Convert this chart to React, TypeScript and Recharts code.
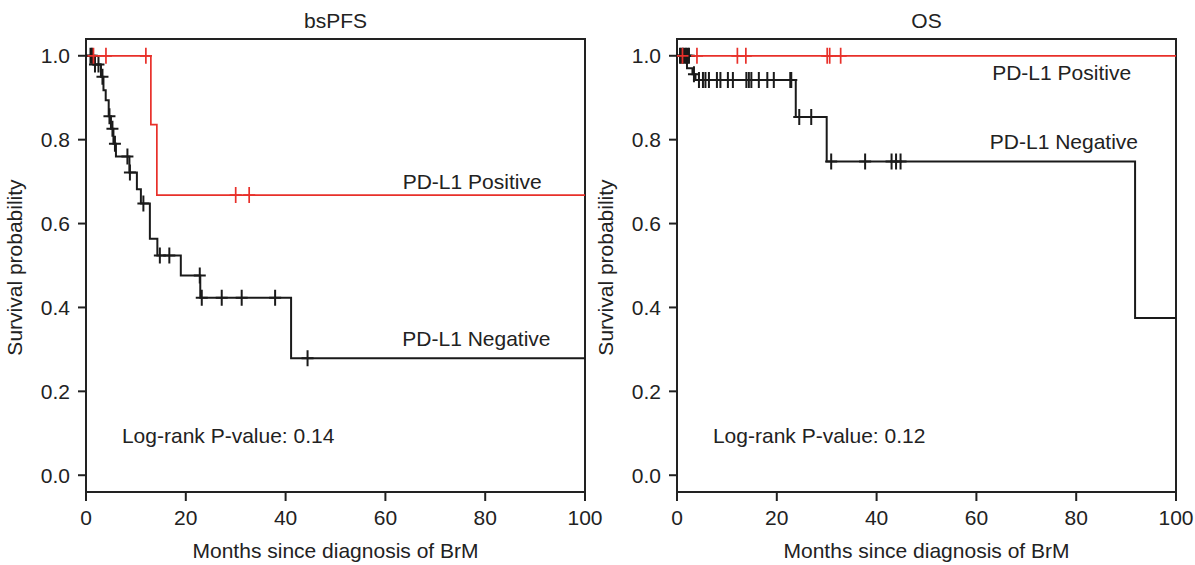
import React from 'react';
import { ComposedChart, Line, Scatter, XAxis, YAxis, ReferenceArea, ReferenceDot } from 'recharts';

const fontFamily = '"Liberation Sans", Arial, Helvetica, sans-serif';
const ink = '#222222';
const black = '#1a1a1a';
const red = '#e8302a';

const xTicks = [0, 20, 40, 60, 80, 100];
const yTicks = [0, 0.2, 0.4, 0.6, 0.8, 1.0];

// bsPFS: [months, survival]
const pfsNegSteps = [
  [0, 1], [1.5, 0.979], [3.0, 0.95], [3.5, 0.918], [3.95, 0.894], [4.55, 0.856],
  [5.0, 0.826], [5.5, 0.79], [6.0, 0.76], [8.7, 0.722], [10.2, 0.682], [11.0, 0.648],
  [12.8, 0.564], [14.3, 0.524], [19.0, 0.476], [22.9, 0.423], [41.1, 0.279], [100, 0.279],
];
const pfsNegCensor = [
  [0.9, 1], [1.2, 1], [1.8, 0.979], [2.5, 0.979], [3.3, 0.95], [4.7, 0.856], [5.3, 0.826],
  [5.8, 0.79], [8.3, 0.76], [8.8, 0.722], [11.5, 0.648], [14.8, 0.524], [16.7, 0.524],
  [22.8, 0.476], [23.2, 0.423], [27.2, 0.423], [31.2, 0.423], [37.9, 0.423], [44.4, 0.279],
];
const pfsPosSteps = [[0, 1], [13.0, 0.836], [14.2, 0.668], [100, 0.668]];
const pfsPosCensor = [[1.5, 1], [4.0, 1], [12.0, 1], [30.0, 0.668], [32.7, 0.668]];

// OS
const osNegSteps = [
  [0, 1], [2.0, 0.97], [3.1, 0.956], [3.7, 0.942], [23.8, 0.854], [30.0, 0.748],
  [91.8, 0.375], [100, 0.375],
];
const osNegCensor = [
  [0.6, 1], [0.9, 1], [1.2, 1], [1.5, 1], [1.8, 1], [2.1, 1], [2.4, 1], [3.4, 0.956],
  [4.4, 0.942], [5.2, 0.942], [5.7, 0.942], [6.4, 0.942], [8.0, 0.942], [8.7, 0.942],
  [10.2, 0.942], [11.2, 0.942], [13.9, 0.942], [14.4, 0.942], [14.9, 0.942], [16.4, 0.942],
  [18.1, 0.942], [19.4, 0.942], [22.7, 0.942], [22.9, 0.942], [24.5, 0.854], [26.9, 0.854],
  [30.9, 0.748], [37.7, 0.748], [43.0, 0.748], [43.9, 0.748], [44.8, 0.748],
];
const osPosSteps = [[0, 1], [100, 1]];
const osPosCensor = [[1.1, 1], [4.0, 1], [12.1, 1], [13.8, 1], [30.1, 1], [30.6, 1], [32.8, 1]];

const toPts = (arr: number[][]) => arr.map(([t, s]) => ({ t, s }));

const censorShape = (color: string, w: number) => (props: any) => {
  const { cx, cy } = props;
  return (
    <path
      d={`M${cx - 6},${cy}h12M${cx},${cy - 8}v16`}
      stroke={color}
      strokeWidth={w}
      fill="none"
    />
  );
};

const noteLabel = (text: string, anchor: 'start' | 'end') => (p: any) => (
  <text
    x={p.viewBox.x}
    y={p.viewBox.y}
    textAnchor={anchor}
    fontSize={21}
    fontFamily={fontFamily}
    fill={ink}
  >
    {text}
  </text>
);

const xLabel = (p: any) => {
  const vb = p.viewBox;
  return (
    <text x={vb.x + vb.width / 2} y={vb.y + 66} textAnchor="middle" fontSize={21} fontFamily={fontFamily} fill={ink}>
      Months since diagnosis of BrM
    </text>
  );
};

const yLabel = (p: any) => {
  const vb = p.viewBox;
  const x = vb.x + vb.width - 64;
  const y = vb.y + vb.height / 2 + 2;
  return (
    <text x={x} y={y} transform={`rotate(-90 ${x} ${y})`} textAnchor="middle" fontSize={21} fontFamily={fontFamily} fill={ink}>
      Survival probability
    </text>
  );
};

interface Note {
  t: number;
  s: number;
  text: string;
  anchor: 'start' | 'end';
}

interface PanelProps {
  width: number;
  yAxisWidth: number;
  rightMargin: number;
  neg: number[][];
  negCensor: number[][];
  pos: number[][];
  posCensor: number[][];
  notes: Note[];
}

function Panel({ width, yAxisWidth, rightMargin, neg, negCensor, pos, posCensor, notes }: PanelProps) {
  const tickStyle = { fontSize: 21, fill: ink, fontFamily };
  return (
    <ComposedChart width={width} height={565} margin={{ top: 39, right: rightMargin, bottom: 0, left: 0 }}>
      <XAxis
        type="number"
        dataKey="t"
        domain={[0, 100]}
        ticks={xTicks}
        interval={0}
        allowDataOverflow
        axisLine={false}
        tickLine={{ stroke: ink, strokeWidth: 2 }}
        tickSize={9}
        tickMargin={9}
        height={73}
        tick={tickStyle}
        label={xLabel}
      />
      <YAxis
        type="number"
        dataKey="s"
        domain={[-0.04, 1.04]}
        ticks={yTicks}
        interval={0}
        allowDataOverflow
        axisLine={false}
        tickLine={{ stroke: ink, strokeWidth: 2 }}
        tickSize={8}
        tickMargin={8}
        width={yAxisWidth}
        tick={tickStyle}
        tickFormatter={(v: number) => v.toFixed(1)}
        label={yLabel}
      />
      <ReferenceArea x1={0} x2={100} y1={-0.04} y2={1.04} fill="none" stroke={ink} strokeWidth={2} fillOpacity={0} ifOverflow="visible" />
      <Line data={toPts(neg)} dataKey="s" type="stepAfter" stroke={black} strokeWidth={2} dot={false} isAnimationActive={false} />
      <Line data={toPts(pos)} dataKey="s" type="stepAfter" stroke={red} strokeWidth={1.7} dot={false} isAnimationActive={false} />
      <Scatter data={toPts(negCensor)} dataKey="s" shape={censorShape(black, 2)} isAnimationActive={false} />
      <Scatter data={toPts(posCensor)} dataKey="s" shape={censorShape(red, 1.7)} isAnimationActive={false} />
      {notes.map((n) => (
        <ReferenceDot key={n.text} x={n.t} y={n.s} r={0} fill="none" stroke="none" ifOverflow="visible" label={noteLabel(n.text, n.anchor)} />
      ))}
    </ComposedChart>
  );
}

const pfsNotes: Note[] = [
  { t: 91.3, s: 0.683, text: 'PD-L1 Positive', anchor: 'end' },
  { t: 93.1, s: 0.309, text: 'PD-L1 Negative', anchor: 'end' },
  { t: 7.2, s: 0.076, text: 'Log-rank P-value: 0.14', anchor: 'start' },
];
const osNotes: Note[] = [
  { t: 91.0, s: 0.942, text: 'PD-L1 Positive', anchor: 'end' },
  { t: 92.4, s: 0.778, text: 'PD-L1 Negative', anchor: 'end' },
  { t: 7.2, s: 0.076, text: 'Log-rank P-value: 0.12', anchor: 'start' },
];

const titleStyle: React.CSSProperties = {
  position: 'absolute',
  top: 9,
  textAlign: 'center',
  fontSize: 21,
  fontFamily,
  color: ink,
  lineHeight: 'normal',
};

export default function App() {
  return (
    <div style={{ position: 'absolute', left: 0, top: 0, width: 1195, height: 565, background: '#fff' }}>
      <style>{'.recharts-surface, .recharts-wrapper { overflow: visible !important; }'}</style>
      <div style={{ position: 'absolute', left: 0, top: 0 }}>
        <Panel width={595} yAxisWidth={86} rightMargin={10} neg={pfsNegSteps} negCensor={pfsNegCensor} pos={pfsPosSteps} posCensor={pfsPosCensor} notes={pfsNotes} />
      </div>
      <div style={{ position: 'absolute', left: 595, top: 0 }}>
        <Panel width={600} yAxisWidth={82} rightMargin={19} neg={osNegSteps} negCensor={osNegCensor} pos={osPosSteps} posCensor={osPosCensor} notes={osNotes} />
      </div>
      <div style={{ ...titleStyle, left: 86, width: 499 }}>bsPFS</div>
      <div style={{ ...titleStyle, left: 677, width: 499 }}>OS</div>
    </div>
  );
}
